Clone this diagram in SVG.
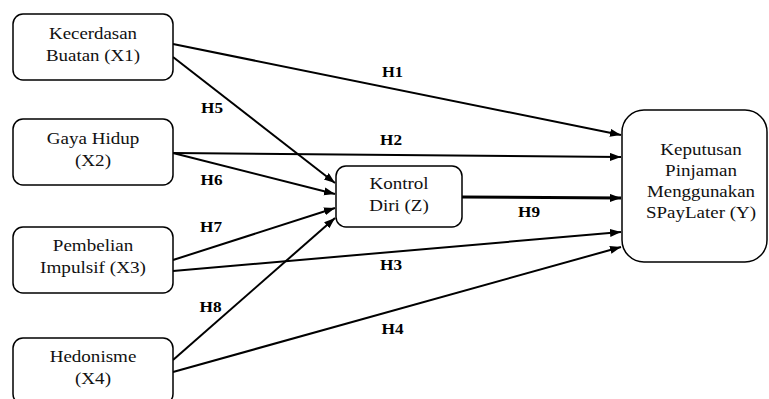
<svg xmlns="http://www.w3.org/2000/svg" width="769" height="399" viewBox="0 0 769 399">
<style>
.box{fill:#fff;stroke:#000;stroke-width:1.5}
.t{font-family:'Liberation Serif','Times New Roman',serif;font-size:16.5px;fill:#111;text-anchor:middle}
.lbl{font-family:'Liberation Serif','Times New Roman',serif;font-size:15px;font-weight:bold;fill:#000;text-anchor:middle}
.c{stroke:#000;stroke-width:2;fill:none;marker-end:url(#ah)}
.thick{stroke-width:3}
</style>
<defs>
<marker id="ah" markerUnits="userSpaceOnUse" markerWidth="12" markerHeight="10" refX="11" refY="4" orient="auto">
<path d="M0,0 L11,4 L0,8 Z" fill="#000"/>
</marker>
</defs>
<g id="connectors">
<line class="c" x1="173" y1="44" x2="621" y2="135"/>
<line class="c" x1="173" y1="57" x2="335" y2="183"/>
<line class="c" x1="173" y1="153" x2="621" y2="157"/>
<line class="c" x1="173" y1="153" x2="335" y2="194"/>
<line class="c" x1="173" y1="260" x2="335" y2="208"/>
<line class="c" x1="173" y1="271" x2="621" y2="232"/>
<line class="c" x1="173" y1="360" x2="335" y2="218"/>
<line class="c" x1="173" y1="372" x2="621" y2="247"/>
<line class="c thick" x1="462" y1="197" x2="621" y2="198"/>
<text class="lbl" x="392.5" y="77" textLength="21" lengthAdjust="spacingAndGlyphs">H1</text>
<text class="lbl" x="391" y="145" textLength="22" lengthAdjust="spacingAndGlyphs">H2</text>
<text class="lbl" x="212" y="113" textLength="22" lengthAdjust="spacingAndGlyphs">H5</text>
<text class="lbl" x="211.5" y="185" textLength="22" lengthAdjust="spacingAndGlyphs">H6</text>
<text class="lbl" x="211" y="232" textLength="22" lengthAdjust="spacingAndGlyphs">H7</text>
<text class="lbl" x="210.5" y="312" textLength="22" lengthAdjust="spacingAndGlyphs">H8</text>
<text class="lbl" x="391" y="270" textLength="22" lengthAdjust="spacingAndGlyphs">H3</text>
<text class="lbl" x="392.5" y="334" textLength="22" lengthAdjust="spacingAndGlyphs">H4</text>
<text class="lbl" x="529" y="217" textLength="22" lengthAdjust="spacingAndGlyphs">H9</text>
</g>
<g id="x1">
<rect class="box" x="13" y="14" width="160" height="66" rx="10"/>
<text class="t" x="93" y="39" textLength="88" lengthAdjust="spacingAndGlyphs">Kecerdasan</text>
<text class="t" x="93" y="61" textLength="94" lengthAdjust="spacingAndGlyphs">Buatan (X1)</text>
</g>
<g id="x2">
<rect class="box" x="13" y="119" width="160" height="66" rx="10"/>
<text class="t" x="93" y="144" textLength="92.5" lengthAdjust="spacingAndGlyphs">Gaya Hidup</text>
<text class="t" x="93" y="166" textLength="36" lengthAdjust="spacingAndGlyphs">(X2)</text>
</g>
<g id="x3">
<rect class="box" x="13" y="227" width="160" height="66" rx="10"/>
<text class="t" x="93" y="251" textLength="80.4" lengthAdjust="spacingAndGlyphs">Pembelian</text>
<text class="t" x="93" y="273" textLength="106" lengthAdjust="spacingAndGlyphs">Impulsif (X3)</text>
</g>
<g id="x4">
<rect class="box" x="13" y="338" width="160" height="66" rx="10"/>
<text class="t" x="93" y="362" textLength="86.7" lengthAdjust="spacingAndGlyphs">Hedonisme</text>
<text class="t" x="93" y="384" textLength="36" lengthAdjust="spacingAndGlyphs">(X4)</text>
</g>
<g id="z">
<rect class="box" x="336" y="166" width="126" height="61" rx="10"/>
<text class="t" x="399" y="189" textLength="59.2" lengthAdjust="spacingAndGlyphs">Kontrol</text>
<text class="t" x="399" y="211" textLength="59.7" lengthAdjust="spacingAndGlyphs">Diri (Z)</text>
</g>
<g id="y">
<rect class="box" x="622" y="110" width="145" height="152" rx="22"/>
<text class="t" x="701" y="155" textLength="81.4" lengthAdjust="spacingAndGlyphs">Keputusan</text>
<text class="t" x="701" y="176" textLength="71.9" lengthAdjust="spacingAndGlyphs">Pinjaman</text>
<text class="t" x="701" y="197" textLength="108" lengthAdjust="spacingAndGlyphs">Menggunakan</text>
<text class="t" x="701" y="218" textLength="110" lengthAdjust="spacingAndGlyphs">SPayLater (Y)</text>
</g>
</svg>
